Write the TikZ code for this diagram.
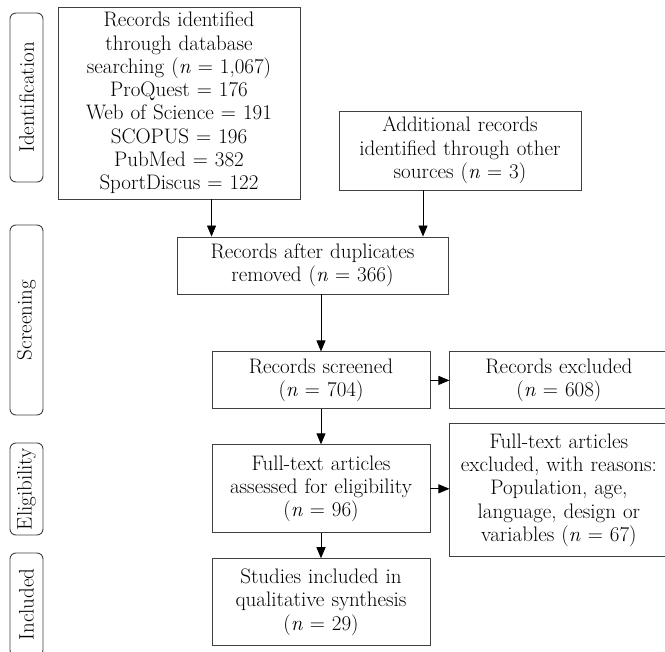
\documentclass[tikz,border=0pt]{standalone}
\usepackage{fontspec}
\usetikzlibrary{positioning,arrows.meta}

\tikzset{
  box/.style={draw=black!75, line width=0.9pt, align=center, inner sep=0pt,
    font=\fontsize{21}{23.3}\selectfont},
  stage/.style={draw=black!75, line width=0.9pt, rounded corners=6pt, rotate=90,
    inner sep=0pt, minimum height=33pt, font=\fontsize{21}{23.3}\selectfont},
  conn/.style={->, draw=black, line width=0.9pt},
}

\begin{document}
\begin{tikzpicture}[x=1pt, y=-1pt, >={Triangle[length=11pt,width=9pt]}]
    \useasboundingbox (0,0) rectangle (665,652);

    % Stages
    \node (ident) [stage, minimum width=169pt] at (26.5,97.5) {Identification};
    \node (screen) [stage, minimum width=190pt] at (26.5,320) {Screening};
    \node (elig) [stage, minimum width=92pt] at (26.5,489) {Eligibility};
    \node (incl) [stage, minimum width=103pt] at (26.5,604.5) {Included};

    % Boxes
    \node (dbrec) [box, text width=242pt, minimum height=192pt] at (179,103)
      {Records identified\\through database\\searching (\textit{n} = 1,067)\\ProQuest = 176\\Web of Science = 191\\SCOPUS = 196\\PubMed = 382\\SportDiscus = 122};
    \node (addrec) [box, text width=242pt, minimum height=79pt] at (460,150.5)
      {Additional records\\identified through other\\sources (\textit{n} = 3)};
    \node (dupl) [box, text width=271pt, minimum height=57pt] at (312.5,265.5)
      {Records after duplicates\\removed (\textit{n} = 366)};
    \node (screened) [box, text width=218pt, minimum height=57pt, below=57pt of dupl, xshift=8.5pt]
      {Records screened\\(\textit{n} = 704)};
    \node (excl) [box, text width=218pt, minimum height=57pt, right=19pt of screened]
      {Records excluded\\(\textit{n} = 608)};
    \node (fulltext) [box, text width=218pt, minimum height=88pt, below=35pt of screened]
      {Full-text articles\\assessed for eligibility\\(\textit{n} = 96)};
    \node (ftexcl) [box, text width=218pt, minimum height=133pt, right=19pt of fulltext, yshift=-1.5pt]
      {Full-text articles\\excluded, with reasons:\\Population, age,\\language, design or\\variables (\textit{n} = 67)};
    \node (studies) [box, text width=218pt, minimum height=87pt, below=25pt of fulltext]
      {Studies included in\\qualitative synthesis\\(\textit{n} = 29)};

    % Arrows
    \draw [conn] (dbrec.south -| screened.west) -- (dupl.north -| screened.west);
    \draw [conn] ([xshift=-37pt]addrec.south) -- ([xshift=-37pt]addrec.south |- dupl.north);
    \draw [conn] (dupl.south -| screened.north) -- (screened.north);
    \draw [conn] (screened) -- (excl);
    \draw [conn] (screened) -- (fulltext);
    \draw [conn] (fulltext.east) -- (fulltext.east -| ftexcl.west);
    \draw [conn] (fulltext) -- (studies);
\end{tikzpicture}
\end{document}
